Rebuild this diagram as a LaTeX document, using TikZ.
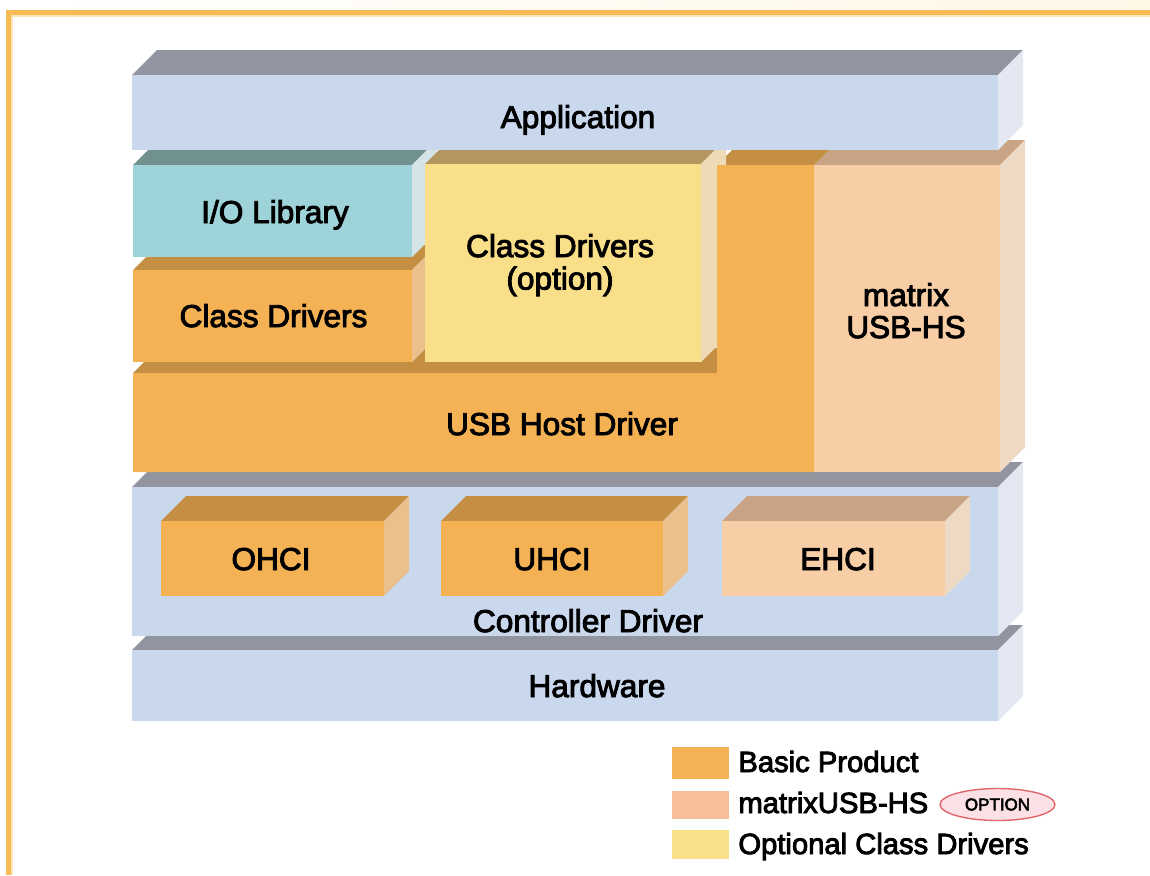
\documentclass[tikz,border=0pt]{standalone}
\usepackage{fontspec}
\setmainfont{Liberation Sans}
\newfontfamily\labfont{Liberation Sans}[FakeBold=3]
\usetikzlibrary{shapes.geometric}
\definecolor{frameor}{HTML}{F7BB55}
\definecolor{framelt}{HTML}{FDE3B5}
\definecolor{cream}{HTML}{FFF7E6}
\definecolor{blueF}{HTML}{CAD8EE}
\definecolor{grayT}{HTML}{9294A0}
\definecolor{blueS}{HTML}{E4E8F2}
\definecolor{orF}{HTML}{F4B254}
\definecolor{orT}{HTML}{C48F42}
\definecolor{orS}{HTML}{EAC08C}
\definecolor{pkF}{HTML}{F8CEA6}
\definecolor{pkT}{HTML}{C8A485}
\definecolor{pkS}{HTML}{EED9C5}
\definecolor{yeF}{HTML}{FADF8A}
\definecolor{yeT}{HTML}{B39660}
\definecolor{yeS}{HTML}{EEDAB5}
\definecolor{teF}{HTML}{9ED3D9}
\definecolor{teT}{HTML}{71918E}
\definecolor{teS}{HTML}{D5E4E6}
\definecolor{legpk}{HTML}{F7BE9C}
\definecolor{optred}{HTML}{E2676A}
\definecolor{optpink}{HTML}{FBE0E6}
% block: x1 y1 x2 y2 front top side (pixel coords, depth 25)
\newcommand\drawblk[7]{%
  \fill[#6] (#1,#2) -- (#1+25,#2-25) -- (#3+25,#2-25) -- (#3,#2) -- cycle;
  \fill[#7] (#3,#2) -- (#3+25,#2-25) -- (#3+25,#4-25) -- (#3,#4) -- cycle;
  \fill[#5] (#1,#2) rectangle (#3,#4);}
\tikzset{
  lab/.style={font=\labfont\fontsize{15.8pt}{16pt}\selectfont, anchor=base, inner sep=0pt},
  leg/.style={font=\labfont\fontsize{14.6pt}{16pt}\selectfont, anchor=base west, inner sep=0pt}
}
\begin{document}
\begin{tikzpicture}[x=0.5pt,y=-0.5pt]
\useasboundingbox (0,0) rectangle (1150,875);
% frame
\shade[left color=white, right color=cream] (0,0) rectangle (1150,10);
\fill[frameor] (6,10) rectangle (1150,15);
\fill[frameor] (6,10) rectangle (11,875);
\fill[framelt] (11,15) rectangle (1150,16.5);
\fill[framelt] (11,15) rectangle (12.5,875);
% hardware
\drawblk{132}{650}{998}{721}{blueF}{grayT}{blueS}
% controller driver
\drawblk{132}{487}{998}{636}{blueF}{grayT}{blueS}
\drawblk{161}{521}{384}{596}{orF}{orT}{orS}
\drawblk{441}{521}{663}{596}{orF}{orT}{orS}
\drawblk{722}{521}{945}{596}{pkF}{pkT}{pkS}
% matrix USB-HS
\drawblk{814}{165}{1000}{472}{pkF}{pkT}{pkS}
% USB host driver top faces
\fill[orT] (133,373) -- (158,348) -- (742,348) -- (717,373) -- cycle;
\fill[orT] (717,165) -- (742,140) -- (839,140) -- (814,165) -- cycle;
% class drivers
\drawblk{133}{270}{412}{362}{orF}{orT}{orS}
% I/O library
\drawblk{133}{165}{412}{257}{teF}{teT}{teS}
% class drivers (option)
\drawblk{425}{164}{701}{362}{yeF}{yeT}{yeS}
% USB host driver front
\fill[orF] (133,373) -- (717,373) -- (717,165) -- (814,165) -- (814,472) -- (133,472) -- cycle;
% application
\drawblk{132}{75}{998}{150}{blueF}{grayT}{blueS}
% labels
\node[lab] (app) at (578,128) {Application};
\node[lab] (io) at (275,223) {I/O Library};
\node[lab] (cd) at (273.5,327) {Class Drivers};
\node[lab] (cdo) at (560,257) {\begin{tabular}[t]{@{}c@{}}Class Drivers\\(option)\end{tabular}};
\node[lab] (mx) at (906,306) {\begin{tabular}[t]{@{}c@{}}matrix\\USB-HS\end{tabular}};
\node[lab] (usb) at (562,435) {USB Host Driver};
\node[lab] (ohci) at (271,570) {OHCI};
\node[lab] (uhci) at (552,570) {UHCI};
\node[lab] (ehci) at (838,570) {EHCI};
\node[lab] (ctl) at (588,632) {Controller Driver};
\node[lab] (hw) at (597,697) {Hardware};
% legend
\fill[orF] (672,747) rectangle (729,779);
\fill[legpk] (672,791) rectangle (729,819);
\fill[yeF] (672,830) rectangle (729,859);
\node[leg] (l1) at (738,772) {Basic Product};
\node[leg] (l2) at (738,813) {matrixUSB-HS};
\node[leg] (l3) at (738,854) {Optional Class Drivers};
\node[ellipse, draw=optred, fill=optpink, line width=0.7pt, minimum width=57.5pt, minimum height=16pt, inner sep=0pt,
  font=\labfont\fontsize{8.5pt}{10pt}\selectfont] (opt) at (997.5,804.5) {OPTION};
\end{tikzpicture}
\end{document}
